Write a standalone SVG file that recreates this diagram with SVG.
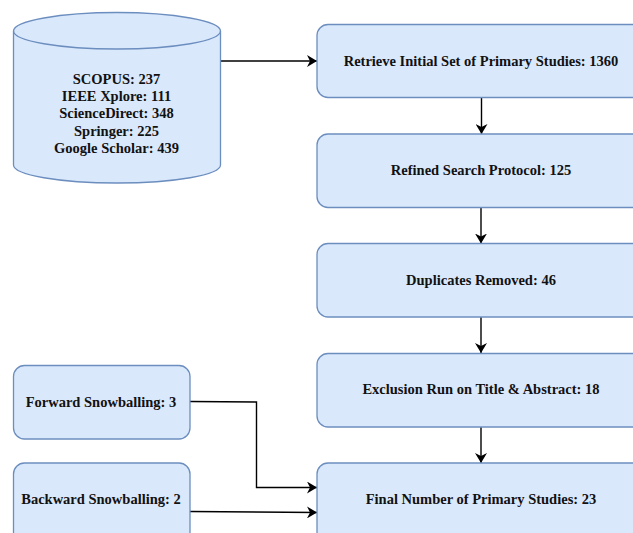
<svg xmlns="http://www.w3.org/2000/svg" width="633" height="533" viewBox="0 0 633 533">
<style>
.n{fill:#dae8fc;stroke:#6c8ebf;stroke-width:1.3}
.l{fill:none;stroke:#6c8ebf;stroke-width:1.3}
.t{font-family:"Liberation Serif","Times New Roman",serif;font-weight:bold;font-size:14.5px;fill:#111;text-anchor:middle}
.c{fill:none;stroke:#000;stroke-width:1.4}
</style>
<defs><marker id="a" markerUnits="userSpaceOnUse" markerWidth="11" markerHeight="12" refX="10" refY="6" orient="auto"><path d="M0 0L10 6L0 12L3 6Z" fill="#000"/></marker></defs>
<rect width="633" height="533" fill="#fff"/>
<g id="connectors">
<path class="c" d="M220.500 61H317" marker-end="url(#a)"/>
<path class="c" d="M481.500 97.500V134" marker-end="url(#a)"/>
<path class="c" d="M481 207V243.500" marker-end="url(#a)"/>
<path class="c" d="M481 317V353" marker-end="url(#a)"/>
<path class="c" d="M481 427V463" marker-end="url(#a)"/>
<path class="c" d="M190 401.500L256.500 402V487.500H317" marker-end="url(#a)"/>
<path class="c" d="M190 511.500L317 512.500" marker-end="url(#a)"/>
</g>
<g id="sources">
<path class="n" d="M13.500 31C13.500 21 60 12.500 117 12.500S220.500 21 220.500 31V165C220.500 175 174 183 117 183S13.500 175 13.500 165Z"/>
<path class="l" d="M13.500 31C13.500 41 60 49 117 49S220.500 41 220.500 31"/>
<text class="t" x="116.500" y="84">SCOPUS: 237</text>
<text class="t" x="116.500" y="101">IEEE Xplore: 111</text>
<text class="t" x="116.500" y="118">ScienceDirect: 348</text>
<text class="t" x="116.500" y="136">Springer: 225</text>
<text class="t" x="116.500" y="153">Google Scholar: 439</text>
</g>
<g id="retrieve"><rect class="n" x="317" y="24.500" width="328" height="73" rx="11"/><text class="t" x="481" y="66">Retrieve Initial Set of Primary Studies: 1360</text></g>
<g id="refined"><rect class="n" x="317" y="134" width="328" height="73.500" rx="11"/><text class="t" x="481" y="175">Refined Search Protocol: 125</text></g>
<g id="duplicates"><rect class="n" x="317" y="243.500" width="328" height="73.500" rx="11"/><text class="t" x="481" y="285">Duplicates Removed: 46</text></g>
<g id="exclusion"><rect class="n" x="317" y="353.500" width="328" height="73.500" rx="11"/><text class="t" x="481" y="394">Exclusion Run on Title &amp; Abstract: 18</text></g>
<g id="final"><rect class="n" x="317" y="463" width="328" height="80" rx="11"/><text class="t" x="481" y="504">Final Number of Primary Studies: 23</text></g>
<g id="forward"><rect class="n" x="13.500" y="365.500" width="176.500" height="73.500" rx="11"/><text class="t" x="101" y="406.500">Forward Snowballing: 3</text></g>
<g id="backward"><rect class="n" x="13.500" y="463" width="176.500" height="80" rx="11"/><text class="t" x="101" y="504">Backward Snowballing: 2</text></g>
</svg>
